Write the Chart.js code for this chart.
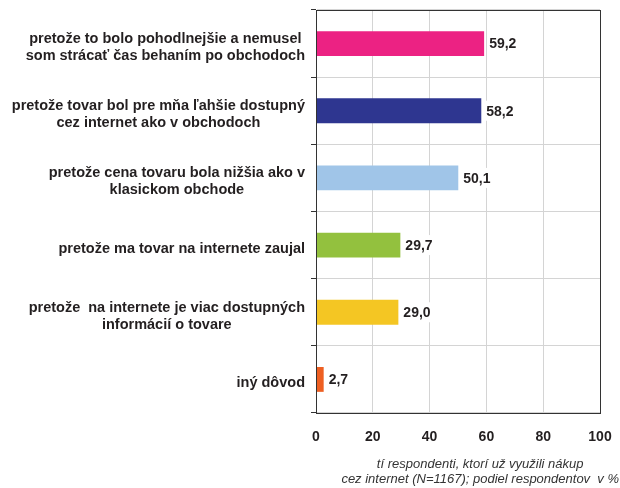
<!DOCTYPE html>
<html>
<head>
<meta charset="utf-8">
<script src="https://cdn.jsdelivr.net/npm/chart.js@4/dist/chart.umd.min.js"></script>
<style>
  html, body { margin: 0; padding: 0; background: #fff; }
  #wrap { width: 620px; height: 488px; position: relative; }
</style>
</head>
<body>
<div id="wrap"><canvas id="reasonsChart"></canvas></div>
<script>
const reasons = [
  ["pretože to bolo pohodlnejšie a nemusel", "som strácať čas behaním po obchodoch"],
  ["pretože tovar bol pre mňa ľahšie dostupný", "cez internet ako v obchodoch"],
  ["pretože cena tovaru bola nižšia ako v", "klasickom obchode"],
  ["pretože ma tovar na internete zaujal"],
  ["pretože  na internete je viac dostupných", "informácií o tovare"],
  ["iný dôvod"]
];
const shares = [59.2, 58.2, 50.1, 29.7, 29.0, 2.7];
const barColors = ["#ec2283", "#2e3690", "#a0c5e8", "#93c13e", "#f4c623", "#ee5f22"];
const xTicks = [0, 20, 40, 60, 80, 100];
const footnote = ["tí respondenti, ktorí už využili nákup", "cez internet (N=1167); podiel respondentov  v %"];

const FONT = "'Liberation Sans', Arial, Helvetica, sans-serif";
const TEXT = "#231f20";

function fmt(v) {
  return v.toFixed(1).replace(".", ",");
}

// category labels, value labels, frame and footnote
const annotate = {
  id: "annotate",
  afterDraw(chart) {
    const ctx = chart.ctx;
    const area = chart.chartArea;
    const y = chart.scales.y;
    ctx.save();

    // frame around the plot
    ctx.strokeStyle = "#333";
    ctx.lineWidth = 1;
    ctx.strokeRect(area.left + 0.5, area.top + 0.5, area.right - area.left, area.bottom - area.top);

    // category labels: block right-aligned, lines centred inside block
    ctx.font = "bold 14.5px " + FONT;
    ctx.fillStyle = TEXT;
    ctx.textAlign = "center";
    ctx.textBaseline = "middle";
    const lineH = 17;
    reasons.forEach((lines, i) => {
      const cy = y.getPixelForValue(i) + 4;
      const w = Math.max(...lines.map(l => ctx.measureText(l).width));
      const cx = area.left - 11 - w / 2;
      lines.forEach((l, j) => {
        ctx.fillText(l, cx, cy + (j - (lines.length - 1) / 2) * lineH);
      });
    });

    // value labels with white backing
    const meta = chart.getDatasetMeta(0);
    ctx.font = "bold 14px " + FONT;
    ctx.textAlign = "left";
    meta.data.forEach((bar, i) => {
      const txt = fmt(shares[i]);
      const w = ctx.measureText(txt).width;
      const x = bar.x + 5;
      ctx.fillStyle = "#fff";
      ctx.fillRect(x - 2, bar.y - 10, w + 4, 20);
      ctx.fillStyle = TEXT;
      ctx.fillText(txt, x, bar.y + 1);
    });

    // footnote under the axis
    ctx.font = "italic 13px " + FONT;
    ctx.fillStyle = "#333";
    ctx.textAlign = "center";
    const fw = Math.max(...footnote.map(l => ctx.measureText(l).width));
    const fx = chart.width - 1 - fw / 2;
    footnote.forEach((l, j) => ctx.fillText(l, fx, 464 + j * 15));

    ctx.restore();
  }
};

new Chart(document.getElementById("reasonsChart"), {
  type: "bar",
  data: {
    labels: reasons,
    datasets: [{
      data: shares,
      backgroundColor: barColors,
      barPercentage: 0.37,
      categoryPercentage: 1
    }]
  },
  options: {
    indexAxis: "y",
    responsive: true,
    maintainAspectRatio: false,
    animation: false,
    layout: { padding: { top: 10, right: 20, bottom: 0, left: 0 } },
    plugins: {
      legend: { display: false },
      tooltip: { enabled: false }
    },
    scales: {
      x: {
        min: 0,
        max: 100,
        afterBuildTicks: scale => { scale.ticks = xTicks.map(v => ({ value: v })); },
        afterFit: scale => {
          scale.height = 75;
          scale.paddingLeft = 0;
          scale.paddingRight = 0;
        },
        grid: { color: "#d4d4d4", drawTicks: false },
        border: { display: true, color: "#333" },
        ticks: {
          padding: 16,
          color: TEXT,
          font: { family: FONT, size: 14, weight: "bold" }
        }
      },
      y: {
        afterFit: scale => { scale.width = 316; },
        grid: { color: "#d4d4d4", offset: true, tickLength: 5, tickColor: "#333" },
        border: { display: true, color: "#333" },
        ticks: { display: false }
      }
    }
  },
  plugins: [annotate]
});
</script>
</body>
</html>
